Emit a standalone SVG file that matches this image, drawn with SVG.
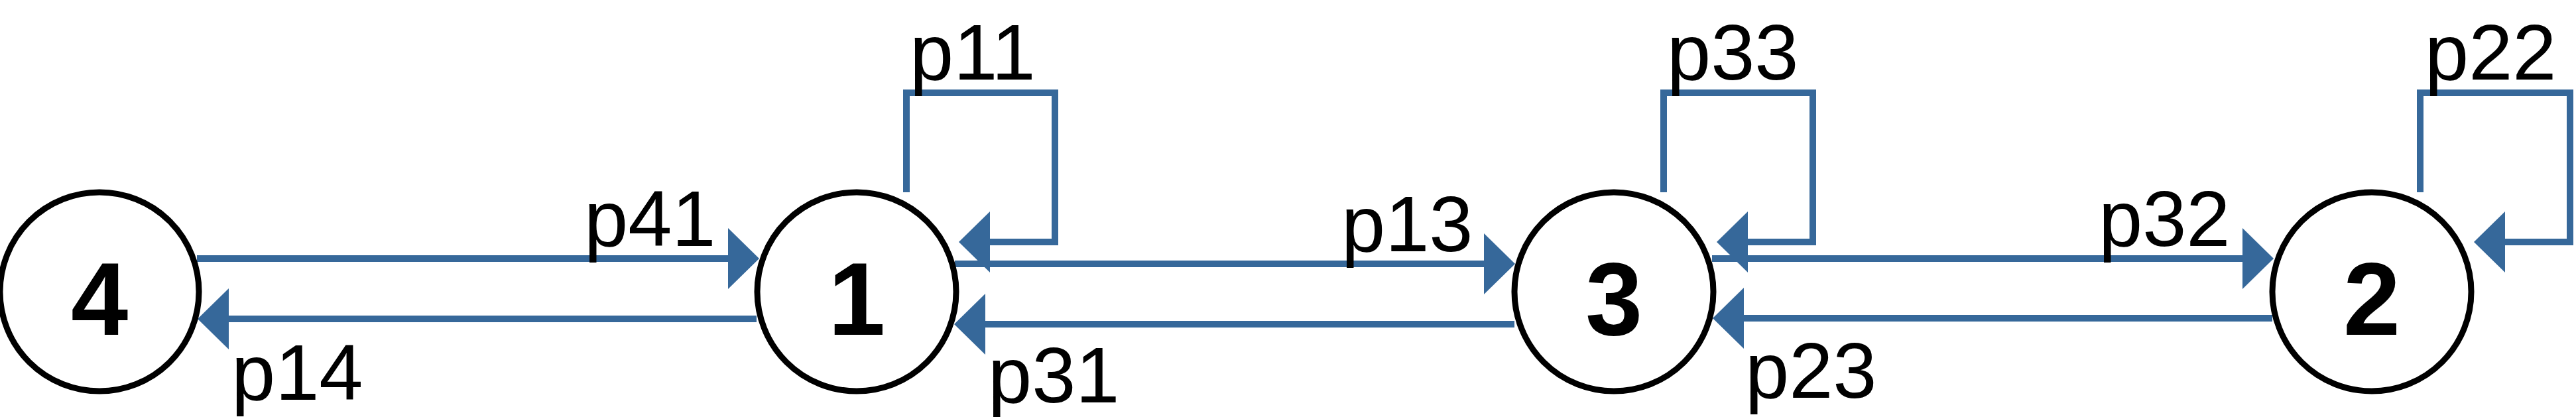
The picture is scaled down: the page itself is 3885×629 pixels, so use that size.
<svg xmlns="http://www.w3.org/2000/svg" width="3885" height="629" viewBox="0 0 3885 629">
<style>
.node circle{fill:#ffffff;stroke:#000000;stroke-width:9}
.node text{font-family:"Liberation Sans",Arial,sans-serif;font-weight:bold;font-size:155px;text-anchor:middle;fill:#000}
.edge{fill:none;stroke:#36689a;stroke-width:10}
.lbl{font-family:"Liberation Sans",Arial,sans-serif;font-size:119px;fill:#000}
</style>
<defs>
<marker id="arr" markerUnits="userSpaceOnUse" markerWidth="48" markerHeight="94" refX="0" refY="46" orient="auto" viewBox="0 0 48 94" overflow="visible">
<path d="M0,0 L47,46 L0,92 z" fill="#36689a"/>
</marker>
</defs>
<rect width="3885" height="629" fill="#ffffff"/>
<g id="connectors">
<path class="edge" d="M297,390 H1098" marker-end="url(#arr)"/>
<path class="edge" d="M1141,481 H345" marker-end="url(#arr)"/>
<path class="edge" d="M1440,398 H2238" marker-end="url(#arr)"/>
<path class="edge" d="M2284,489 H1486" marker-end="url(#arr)"/>
<path class="edge" d="M2582,390 H3382" marker-end="url(#arr)"/>
<path class="edge" d="M3427,480 H2630" marker-end="url(#arr)"/>
<path class="edge" d="M1367,290 V140 H1591 V365 H1493" marker-end="url(#arr)"/>
<path class="edge" d="M2509,290 V140 H2734 V365 H2636" marker-end="url(#arr)"/>
<path class="edge" d="M3650,290 V140 H3876 V365 H3778" marker-end="url(#arr)"/>
<text class="lbl" x="881" y="371">p41</text>
<text class="lbl" x="349" y="603">p14</text>
<text class="lbl" x="1372" y="120">p11</text>
<text class="lbl" x="2023" y="379">p13</text>
<text class="lbl" x="1490" y="607">p31</text>
<text class="lbl" x="2514" y="120">p33</text>
<text class="lbl" x="2632" y="600">p23</text>
<text class="lbl" x="3165" y="371">p32</text>
<text class="lbl" x="3657" y="120">p22</text>
</g>
<g id="node4" class="node"><circle cx="150" cy="440" r="150"/><text x="150" y="505">4</text></g>
<g id="node1" class="node"><circle cx="1292" cy="440" r="150"/><text x="1292" y="505">1</text></g>
<g id="node3" class="node"><circle cx="2434" cy="440" r="150"/><text x="2434" y="505">3</text></g>
<g id="node2" class="node"><circle cx="3577" cy="440" r="150"/><text x="3577" y="505">2</text></g>
</svg>
